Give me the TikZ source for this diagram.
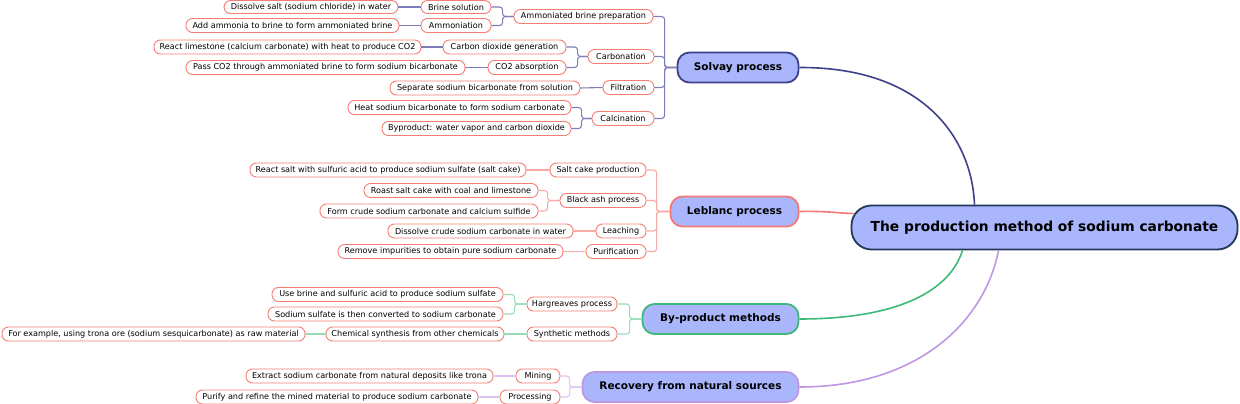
\documentclass[tikz,border=0pt]{standalone}
\usepackage{fontspec}
\setmainfont{DejaVu Sans}
\definecolor{fillblue}{RGB}{170,182,252}
\definecolor{rootborder}{RGB}{35,55,90}
\definecolor{solvdark}{RGB}{62,64,140}
\definecolor{solvlight}{RGB}{125,125,185}
\definecolor{lebdark}{RGB}{245,120,120}
\definecolor{leblight}{RGB}{250,170,165}
\definecolor{grndark}{RGB}{60,185,120}
\definecolor{grnlight}{RGB}{150,220,180}
\definecolor{purdark}{RGB}{190,150,225}
\definecolor{purlight}{RGB}{220,195,240}
\definecolor{leafborder}{RGB}{245,125,115}
\tikzset{
  leaf/.style={draw=leafborder, line width=0.9pt, fill=white, rounded corners=6.5pt,
    minimum height=14pt, inner sep=0pt, font=\fontsize{8.1}{9}\selectfont},
  topic/.style={draw, line width=1.8pt, fill=fillblue, rounded corners=12pt,
    minimum height=30pt, inner sep=0pt, font=\fontsize{10.5}{12}\selectfont\bfseries},
  rootnode/.style={draw=rootborder, line width=1.8pt, fill=fillblue, rounded corners=20pt,
    minimum height=44pt, inner sep=0pt, font=\fontsize{13.8}{15}\selectfont\bfseries},
  br/.style={line width=1.1pt, rounded corners=3pt},
  main/.style={line width=1.6pt}
}
\begin{document}
\begin{tikzpicture}[x=1pt,y=-1pt]
\useasboundingbox (0,0) rectangle (1240,404);
% root
\node[rootnode, minimum width=386pt] (root) at (1044.5,227.5) {The production method of sodium carbonate};
% level 1
\node[topic, draw=solvdark, minimum width=121pt] (sol) at (738,67.5) {Solvay process};
\node[topic, draw=lebdark, minimum width=128pt] (leb) at (734.5,211.5) {Leblanc process};
\node[topic, draw=grndark, minimum width=156pt] (byp) at (720.5,319) {By-product methods};
\node[topic, draw=purdark, minimum width=216pt] (rec) at (690.5,387) {Recovery from natural sources};
% root connectors
\draw[main, solvdark] (sol.east) .. controls (925,67) and (972,140) .. ([xshift=-70pt]root.north);
\draw[main, lebdark] (leb.east) .. controls (830,211) and (835,213) .. ([xshift=-191pt,yshift=14pt]root.center);
\draw[main, grndark] (byp.east) .. controls (900,319) and (950,290) .. ([xshift=-82pt]root.south);
\draw[main, purdark] (rec.east) .. controls (920,387) and (985,320) .. ([xshift=-46pt]root.south);
% Solvay level 2
\node[leaf, minimum width=139pt] (abp) at (583.5,16.5) {Ammoniated brine preparation};
\node[leaf, minimum width=66pt] (carb) at (621,56.5) {Carbonation};
\node[leaf, minimum width=51pt] (filt) at (628.5,87.5) {Filtration};
\node[leaf, minimum width=62pt] (calc) at (623,118.5) {Calcination};
% Solvay level 3
\node[leaf, minimum width=70pt, minimum height=13pt] (brine) at (456,7) {Brine solution};
\node[leaf, minimum width=70pt] (ammon) at (456,25.5) {Ammoniation};
\node[leaf, minimum width=123pt] (co2gen) at (504.5,47) {Carbon dioxide generation};
\node[leaf, minimum width=78pt] (co2abs) at (527,67.5) {CO2 absorption};
\node[leaf, minimum width=174pt, minimum height=13pt] (dissolve) at (311,7) {Dissolve salt (sodium chloride) in water};
\node[leaf, minimum width=213pt] (addamm) at (292.5,25.5) {Add ammonia to brine to form ammoniated brine};
\node[leaf, minimum width=267pt] (reactlime) at (287.5,47) {React limestone (calcium carbonate) with heat to produce CO2};
\node[leaf, minimum width=279pt] (passco2) at (325.5,67.5) {Pass CO2 through ammoniated brine to form sodium bicarbonate};
\node[leaf, minimum width=190pt] (separate) at (485,88) {Separate sodium bicarbonate from solution};
\node[leaf, minimum width=223pt] (heat) at (459.5,107.5) {Heat sodium bicarbonate to form sodium carbonate};
\node[leaf, minimum width=189pt] (byproduct) at (476.5,128.5) {Byproduct: water vapor and carbon dioxide};
% Solvay connectors
\foreach \c in {abp,carb,filt,calc} \draw[br, solvlight] (sol.west) -- ++(-12,0) |- (\c.east);
\foreach \c in {brine,ammon} \draw[br, solvlight] (abp.west) -- ++(-11,0) |- (\c.east);
\foreach \c in {co2gen,co2abs} \draw[br, solvlight] (carb.west) -- ++(-10,0) |- (\c.east);
\foreach \c in {heat,byproduct} \draw[br, solvlight] (calc.west) -- ++(-10,0) |- (\c.east);
\draw[br, solvlight] (brine.west) -- (dissolve.east);
\draw[br, solvlight] (ammon.west) -- (addamm.east);
\draw[br, solvlight] (co2gen.west) -- (reactlime.east);
\draw[br, solvlight] (co2abs.west) -- (passco2.east);
\draw[br, solvlight] (filt.west) -- (separate.east);
% Leblanc
\node[leaf, minimum width=96pt] (saltcake) at (598,170) {Salt cake production};
\node[leaf, minimum width=86pt] (blackash) at (603,200.5) {Black ash process};
\node[leaf, minimum width=50pt] (leach) at (621,231) {Leaching};
\node[leaf, minimum width=60pt] (purif) at (616,251.5) {Purification};
\node[leaf, minimum width=276pt] (reactsalt) at (388,170) {React salt with sulfuric acid to produce sodium sulfate (salt cake)};
\node[leaf, minimum width=174pt] (roast) at (451,190.5) {Roast salt cake with coal and limestone};
\node[leaf, minimum width=218pt] (formcrude) at (429,211) {Form crude sodium carbonate and calcium sulfide};
\node[leaf, minimum width=185pt] (dissolvecrude) at (480.5,231) {Dissolve crude sodium carbonate in water};
\node[leaf, minimum width=225pt] (removeimp) at (450.5,251.5) {Remove impurities to obtain pure sodium carbonate};
\foreach \c in {saltcake,blackash,leach,purif} \draw[br, leblight] (leb.west) -- ++(-13,0) |- (\c.east);
\foreach \c in {roast,formcrude} \draw[br, leblight] (blackash.west) -- ++(-12,0) |- (\c.east);
\draw[br, leblight] (saltcake.west) -- (reactsalt.east);
\draw[br, leblight] (leach.west) -- (dissolvecrude.east);
\draw[br, leblight] (purif.west) -- (removeimp.east);
% By-product
\node[leaf, minimum width=90pt] (harg) at (572,304) {Hargreaves process};
\node[leaf, minimum width=90pt] (synth) at (572,334) {Synthetic methods};
\node[leaf, minimum width=231pt] (usebrine) at (387.5,294.5) {Use brine and sulfuric acid to produce sodium sulfate};
\node[leaf, minimum width=235pt] (sodsulf) at (385.5,314) {Sodium sulfate is then converted to sodium carbonate};
\node[leaf, minimum width=178pt] (chemsyn) at (415,334) {Chemical synthesis from other chemicals};
\node[leaf, minimum width=303pt] (forex) at (153.5,334) {For example, using trona ore (sodium sesquicarbonate) as raw material};
\foreach \c in {harg,synth} \draw[br, grnlight] (byp.west) -- ++(-12,0) |- (\c.east);
\foreach \c in {usebrine,sodsulf} \draw[br, grnlight] (harg.west) -- ++(-12,0) |- (\c.east);
\draw[br, grnlight] (synth.west) -- (chemsyn.east);
\draw[br, grnlight] (chemsyn.west) -- (forex.east);
% Recovery
\node[leaf, minimum width=44pt] (mining) at (538,376) {Mining};
\node[leaf, minimum width=60pt] (proc) at (530,397) {Processing};
\node[leaf, minimum width=247pt] (extract) at (369.5,376) {Extract sodium carbonate from natural deposits like trona};
\node[leaf, minimum width=282pt] (purify) at (337,397) {Purify and refine the mined material to produce sodium carbonate};
\foreach \c in {mining,proc} \draw[br, purlight] (rec.west) -- ++(-12,0) |- (\c.east);
\draw[br, purlight] (mining.west) -- (extract.east);
\draw[br, purlight] (proc.west) -- (purify.east);
\end{tikzpicture}
\end{document}
